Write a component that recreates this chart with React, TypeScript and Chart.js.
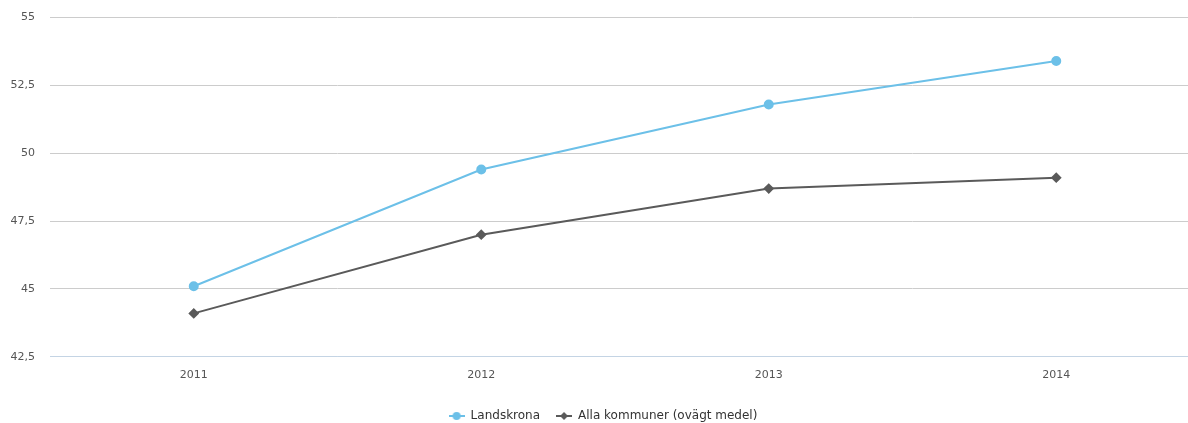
import React, { useEffect, useRef } from "react";
import { Chart, registerables } from "chart.js";

Chart.register(...registerables);

const categories = ["2011", "2012", "2013", "2014"];
const landskrona = [45.1, 49.4, 51.8, 53.4];
const allaKommuner = [44.1, 47.0, 48.7, 49.1];
const seriesNames = ["Landskrona", "Alla kommuner (ovägt medel)"];

const BLUE = "#6cc0e8";
const GRAY = "#5a5a5a";
const FONT = "'DejaVu Sans', sans-serif";
const AXIS_BLUE = "#c4d4e4";

function legendIcon(color: string, kind: "circle" | "diamond"): HTMLCanvasElement {
  const c = document.createElement("canvas");
  c.width = 16;
  c.height = 10;
  const ctx = c.getContext("2d")!;
  ctx.strokeStyle = color;
  ctx.lineWidth = 2;
  ctx.beginPath();
  ctx.moveTo(0, 5);
  ctx.lineTo(16, 5);
  ctx.stroke();
  ctx.fillStyle = color;
  ctx.beginPath();
  if (kind === "circle") {
    ctx.arc(8, 5, 4, 0, Math.PI * 2);
  } else {
    ctx.moveTo(8, 1);
    ctx.lineTo(12, 5);
    ctx.lineTo(8, 9);
    ctx.lineTo(4, 5);
    ctx.closePath();
  }
  ctx.fill();
  return c;
}

export default function App() {
  const ref = useRef<HTMLCanvasElement | null>(null);
  useEffect(() => {
    if (!ref.current) return;
    const icons = [legendIcon(BLUE, "circle"), legendIcon(GRAY, "diamond")];
    const chart = new Chart(ref.current, {
      type: "line",
      data: {
        labels: categories,
        datasets: [
          {
            label: seriesNames[0],
            data: landskrona,
            borderColor: BLUE,
            backgroundColor: BLUE,
            borderWidth: 2,
            pointRadius: 4,
            pointStyle: "circle",
            tension: 0,
          },
          {
            label: seriesNames[1],
            data: allaKommuner,
            borderColor: GRAY,
            backgroundColor: GRAY,
            borderWidth: 2,
            pointRadius: 4,
            pointStyle: "rectRot",
            tension: 0,
          },
        ],
      },
      options: {
        animation: false,
        responsive: false,
        maintainAspectRatio: false,
        layout: { padding: { top: 6, left: 0, right: 0, bottom: 0 } },
        scales: {
          x: {
            offset: true,
            grid: { display: false, drawTicks: false },
            border: { color: AXIS_BLUE, width: 1, z: 1 },
            ticks: { color: "#555", padding: 12, font: { family: FONT, size: 11 } },
          },
          y: {
            min: 42.5,
            max: 55,
            grid: {
              color: (c: any) => (c.tick && c.tick.value === 42.5 ? AXIS_BLUE : "#cccccc"),
              drawTicks: false,
            },
            border: { display: false },
            afterFit: (s: any) => { s.width = 50; },
            ticks: {
              stepSize: 2.5,
              color: "#555",
              padding: 15,
              font: { family: FONT, size: 11 },
              callback: (v: any) => String(v).replace(".", ","),
            },
          },
        },
        plugins: {
          tooltip: { enabled: false },
          legend: {
            position: "bottom",
            labels: {
              usePointStyle: true,
              pointStyleWidth: 16,
              color: "#333",
              padding: 16,
              font: { family: FONT, size: 12 },
              generateLabels: (ch: any) =>
                ch.data.datasets.map((d: any, i: number) => ({
                  text: d.label,
                  fillStyle: d.backgroundColor,
                  strokeStyle: d.borderColor,
                  fontColor: "#333",
                  pointStyle: icons[i],
                  lineWidth: 0,
                  hidden: false,
                  datasetIndex: i,
                })),
            },
          },
        },
      },
    });
    return () => chart.destroy();
  }, []);
  return (
    <div style={{ position: "absolute", left: 0, top: -4, width: 1206, height: 436, background: "#fff" }}>
      <canvas ref={ref} width={1206} height={436} />
    </div>
  );
}
